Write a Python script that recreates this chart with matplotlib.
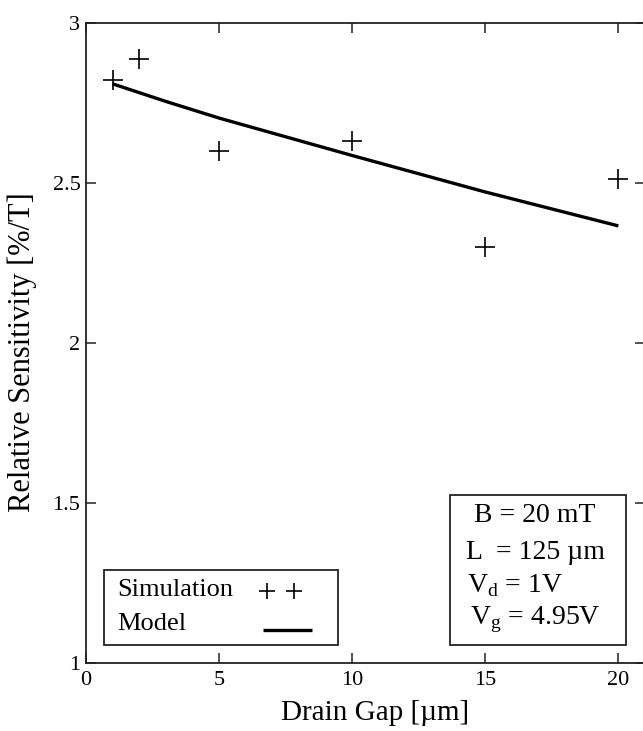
#!/usr/bin/env python
# -*-coding:utf-8 -*-
import matplotlib

matplotlib.use("Agg")
from matplotlib import pyplot as plt
from matplotlib.lines import Line2D
from matplotlib.patches import Rectangle

# simulated drain-gap sweep
gap_sim = [1, 2, 5, 10, 15, 20]
sens_sim = [2.822, 2.888, 2.600, 2.631, 2.300, 2.512]

# analytical model curve
gap_model = [1, 3, 5, 10, 15, 20]
sens_model = [2.810, 2.755, 2.703, 2.586, 2.472, 2.366]

x_ticks = [0, 5, 10, 15, 20]
y_ticks = [1, 1.5, 2, 2.5, 3]
y_tick_labels = ["1", "1.5", "2", "2.5", "3"]

legend_labels = ["Simulation", "Model"]
conditions = [
    r"B = 20 mT",
    r"L  = 125 µm",
    r"V$_\mathregular{d}$ = 1V",
    r"V$_\mathregular{g}$ = 4.95V",
]

EDGE = "#222222"


def get_config() -> dict:
    return {
        "font.family": ["Liberation Serif", "DejaVu Serif"],
        "mathtext.fontset": "custom",
        "mathtext.rm": "Liberation Serif",
        "axes.unicode_minus": False,
        "axes.linewidth": 1.3,
        "axes.edgecolor": EDGE,
    }


def boxed(ax, x0, y0, w, h):
    # plain square frame in axes coordinates
    ax.add_patch(Rectangle((x0, y0), w, h, transform=ax.transAxes,
                           facecolor="white", edgecolor=EDGE, lw=1.3,
                           zorder=4, clip_on=False))


plt.rcParams.update(get_config())

fig = plt.figure(figsize=(6.43, 7.31), dpi=100)
# right spine sits just past the figure edge, as in the original export
ax = fig.add_axes([0.1337, 0.0930, 0.8694, 0.8755])

ax.plot(gap_model, sens_model, color="black", lw=2.4, solid_capstyle="butt")
ax.plot(gap_sim, sens_sim, ls="none", marker="+", ms=15, mew=1.2,
        color="black")

ax.set_xlim(0, 21)
ax.set_ylim(1, 3)
ax.set_xticks(x_ticks)
ax.set_yticks(y_ticks)
ax.set_yticklabels(y_tick_labels)
ax.tick_params(direction="in", length=7.5, width=1.1, labelsize=16,
               top=True, right=True, color=EDGE)
ax.tick_params(axis="x", pad=6)
ax.tick_params(axis="y", pad=4)

ax.set_xlabel("Drain Gap [µm]", fontsize=21, va="center")
ax.xaxis.set_label_coords(0.518, -0.078)
ax.set_ylabel("Relative Sensitivity [%/T]", fontsize=22, va="center")
ax.yaxis.set_label_coords(-0.1145, 0.486)

# legend: label on the left, sample on the right
boxed(ax, 0.0322, 0.0281, 0.4186, 0.1172)
for label, y in zip(legend_labels, [0.1140, 0.0610]):
    ax.text(0.0555, y, label, transform=ax.transAxes, fontsize=19,
            ha="left", va="center", zorder=5)
ax.add_line(Line2D([0.3238, 0.3721], [0.1125, 0.1125], ls="none",
                   marker="+", ms=12, mew=1.2, color="black",
                   transform=ax.transAxes, zorder=5, clip_on=False))
ax.add_line(Line2D([0.3166, 0.4043], [0.0516, 0.0516], lw=2.4,
                   color="black", transform=ax.transAxes, zorder=5,
                   solid_capstyle="butt", clip_on=False))

# operating conditions
boxed(ax, 0.6512, 0.0281, 0.3149, 0.2344)
for line, x, y in zip(conditions,
                      [0.803, 0.805, 0.767, 0.803],
                      [0.230, 0.172, 0.121, 0.067]):
    ax.text(x, y, line, transform=ax.transAxes, fontsize=20,
            ha="center", va="center", zorder=5)

ax.set_xlim(0, 21)
ax.set_ylim(1, 3)

fig.savefig("out.png", dpi=100)
